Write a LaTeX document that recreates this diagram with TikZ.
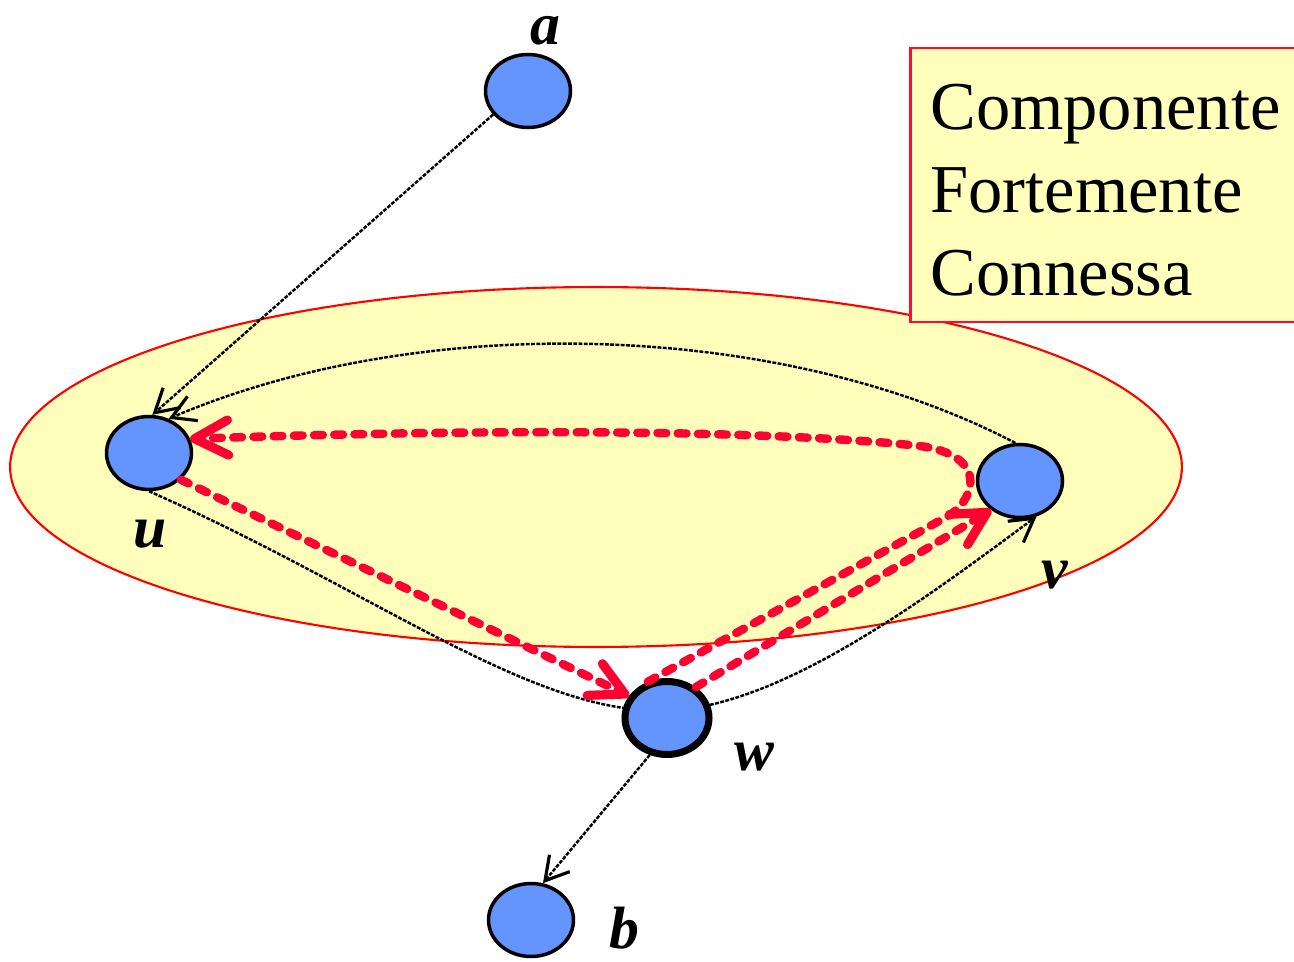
\documentclass[tikz,border=0pt]{standalone}
\usepackage{fontspec}
\setmainfont{Liberation Serif}
\usetikzlibrary{shapes.geometric,arrows.meta}
\definecolor{nodeblue}{RGB}{100,149,255}
\definecolor{sccyellow}{RGB}{255,255,187}
\definecolor{pathred}{RGB}{255,0,48}
\definecolor{borderred}{RGB}{255,0,0}
\definecolor{boxred}{RGB}{255,10,50}
\begin{document}
\begin{tikzpicture}[x=0.02cm,y=-0.02cm,
  vertex/.style={ellipse, draw=black, line width=2pt, fill=nodeblue,
    minimum width=1.7cm, minimum height=1.46cm, inner sep=0pt},
  lbl/.style={font=\fontsize{34}{40}\selectfont\bfseries\itshape, anchor=base, inner sep=0pt},
  boxtxt/.style={font=\fontsize{39}{47}\selectfont, anchor=base west, inner sep=0pt},
  blk/.style={line width=1.4pt, dash pattern=on 2.2pt off 0.8pt},
  blktip/.style={-{Straight Barb[length=13pt,width=15pt,line width=1.8pt]}},
  redpath/.style={draw=pathred, line width=4.8pt, line cap=round, dash pattern=on 5pt off 6.5pt},
  redtip/.style={-{Straight Barb[length=19pt,width=20pt,line width=5.2pt,round]}}
]
\useasboundingbox (0,0) rectangle (1294,962);
\clip (0,0) rectangle (1294,962);

% strongly connected component region
\draw[draw=borderred, line width=1.2pt, fill=sccyellow] (596,467) ellipse [x radius=11.72cm, y radius=3.6cm];

% legend box
\draw[draw=boxred, line width=1.7pt, fill=sccyellow] (910,48) rectangle (1310,322);
\node[boxtxt] (t1) at (930,130) {Componente};
\node[boxtxt] (t2) at (930,213) {Fortemente};
\node[boxtxt] (t3) at (930,296) {Connessa};

% vertices
\node[vertex] (a) at (528,91) {};
\node[vertex] (u) at (149,453) {};
\node[vertex] (v) at (1020,481) {};
\node[vertex, line width=4pt, minimum width=1.68cm, minimum height=1.46cm] (w) at (667,718) {};
\node[vertex] (b) at (531,920) {};

% labels
\node[lbl] (la) at (545,45) {a};
\node[lbl] (lu) at (150,547) {u};
\node[lbl] (lv) at (1055,588) {v};
\node[lbl] (lw) at (754,770) {w};
\node[lbl] (lb) at (624,948) {b};

% black edges
\draw[blk, blktip] (a.214) -- (u.85);
\draw[blk, blktip] (v.97) .. controls (780,320) and (420,311) .. (u.60);
\draw[blk] (u.-90) .. controls (350,580) and (500,690) .. (w.167);
\draw[blk, blktip] (w.17) .. controls (820,680) and (950,580) .. (v.-65);
\draw[blk, blktip] (w.245) -- (b.72);

% red dashed paths
\draw[redpath, redtip] (u.-40) -- (w.150);
\draw[redpath, redtip] (w.47) -- (v.225);
\draw[redpath, redtip] (w.118) -- (950,515) .. controls (978,495) and (985,455) .. (920,446)
  .. controls (750,428) and (450,430) .. (u.19);
\end{tikzpicture}
\end{document}
